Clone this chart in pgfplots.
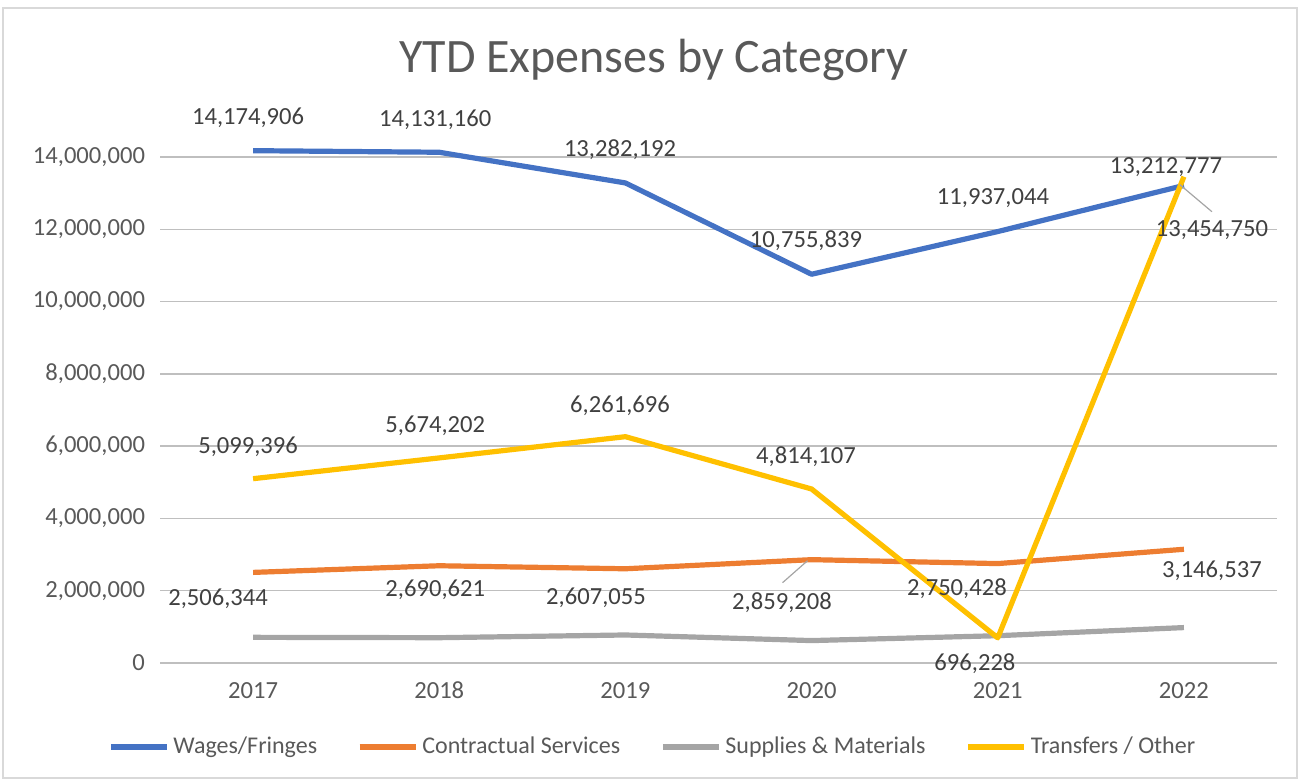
\documentclass[border=0pt]{standalone}
\usepackage{pgfplots}
\pgfplotsset{compat=1.18}
\usepackage{fontspec}
\setmainfont{Carlito}
\definecolor{cblue}{HTML}{4472C4}
\definecolor{corange}{HTML}{ED7D31}
\definecolor{cgray}{HTML}{A5A5A5}
\definecolor{cgold}{HTML}{FFC000}
\definecolor{txt}{HTML}{595959}
\definecolor{lbl}{HTML}{404040}
\definecolor{grid}{HTML}{D9D9D9}
\begin{document}
\begin{tikzpicture}[x=1pt,y=1pt]
\useasboundingbox (0,0) rectangle (651,390.5);
\draw[grid,line width=0.6pt] (1.5,1.5) rectangle (648.5,386.5);
\node[text=txt,font=\fontsize{24}{28}\selectfont] at (327,360.5) {YTD Expenses by Category};
\begin{axis}[
  at={(80pt,59pt)}, anchor=south west,
  scale only axis, width=558.5pt, height=253pt,
  xmin=-0.5, xmax=5.5, ymin=0, ymax=14000000,
  xtick={0,1,2,3,4,5}, xticklabels={2017,2018,2019,2020,2021,2022},
  ytick={0,2000000,4000000,6000000,8000000,10000000,12000000,14000000},
  scaled y ticks=false,
  /pgf/number format/fixed, /pgf/number format/1000 sep={,},
  /pgf/number format/assume math mode=true,
  yticklabel style={text=txt,font=\fontsize{12.3}{14}\selectfont,xshift=-4pt},
  xticklabel style={text=txt,font=\fontsize{12.3}{14}\selectfont,yshift=-6pt},
  xmajorgrids=false, ymajorgrids=true, grid style={grid,line width=0.75pt},
  axis line style={draw=none}, major tick length=0, tick style={draw=none},
  clip=false,
  legend columns=4,
  legend style={draw=none, fill=none, at={(0.442,-0.166)}, anchor=center,
    font=\fontsize{12}{14}\selectfont, text=txt,
    /tikz/every even column/.append style={column sep=18pt}},
  legend image code/.code={\draw[#1,line width=2.6pt] (0pt,0pt) -- (28pt,0pt);},
  every axis plot/.append style={line width=2.6pt, line join=round, mark=none},
]
\addplot[cblue] coordinates {(0,14174906) (1,14131160) (2,13282192) (3,10755839) (4,11937044) (5,13212777)};
\addlegendentry{Wages/Fringes}
\addplot[corange] coordinates {(0,2506344) (1,2690621) (2,2607055) (3,2859208) (4,2750428) (5,3146537)};
\addlegendentry{Contractual Services}
\addplot[cgray] coordinates {(0,710000) (1,700000) (2,775000) (3,620000) (4,755000) (5,980000)};
\addlegendentry{Supplies \& Materials}
\addplot[cgold] coordinates {(0,5099396) (1,5674202) (2,6261696) (3,4814107) (4,696228) (5,13454750)};
\addlegendentry{Transfers / Other}
% data labels
\tikzset{dl/.style={text=lbl,font=\fontsize{12.3}{14}\selectfont,inner sep=0pt}}
\node[dl] at ([shift={(-2.5pt,16.4pt)}]axis cs:0,14174906) {14,174,906};
\node[dl] at ([shift={(-2pt,16.1pt)}]axis cs:1,14131160) {14,131,160};
\node[dl] at ([shift={(-2.7pt,16.5pt)}]axis cs:2,13282192) {13,282,192};
\node[dl] at ([shift={(-2.8pt,16.6pt)}]axis cs:3,10755839) {10,755,839};
\node[dl] at ([shift={(-2.4pt,16.8pt)}]axis cs:4,11937044) {11,937,044};
\node[dl] at ([shift={(-9pt,9.3pt)}]axis cs:5,13212777) {13,212,777};
\node[dl] at ([shift={(-2.5pt,15.8pt)}]axis cs:0,5099396) {5,099,396};
\node[dl] at ([shift={(-2pt,16pt)}]axis cs:1,5674202) {5,674,202};
\node[dl] at ([shift={(-2.7pt,15.3pt)}]axis cs:2,6261696) {6,261,696};
\node[dl] at ([shift={(-2.8pt,16pt)}]axis cs:3,4814107) {4,814,107};
\node[dl] at ([shift={(-11.4pt,-13.1pt)}]axis cs:4,696228) {696,228};
\node[dl] at ([shift={(14pt,-26.7pt)}]axis cs:5,13454750) {13,454,750};
\draw[cgray,line width=0.6pt] ([shift={(-2pt,-4pt)}]axis cs:5,13454750) -- ([shift={(14pt,-17.5pt)}]axis cs:5,13454750);
\node[dl] at ([shift={(-17.5pt,-13.3pt)}]axis cs:0,2506344) {2,506,344};
\node[dl] at ([shift={(-2pt,-12.1pt)}]axis cs:1,2690621) {2,690,621};
\node[dl] at ([shift={(-14.7pt,-14.6pt)}]axis cs:2,2607055) {2,607,055};
\node[dl] at ([shift={(-14.8pt,-21.6pt)}]axis cs:3,2859208) {2,859,208};
\draw[cgray,line width=0.6pt] ([shift={(-2pt,-0.5pt)}]axis cs:3,2859208) -- ([shift={(-14.5pt,-11.5pt)}]axis cs:3,2859208);
\node[dl] at ([shift={(-20.4pt,-12.7pt)}]axis cs:4,2750428) {2,750,428};
\node[dl] at ([shift={(14pt,-10.9pt)}]axis cs:5,3146537) {3,146,537};
\end{axis}
\end{tikzpicture}
\end{document}
